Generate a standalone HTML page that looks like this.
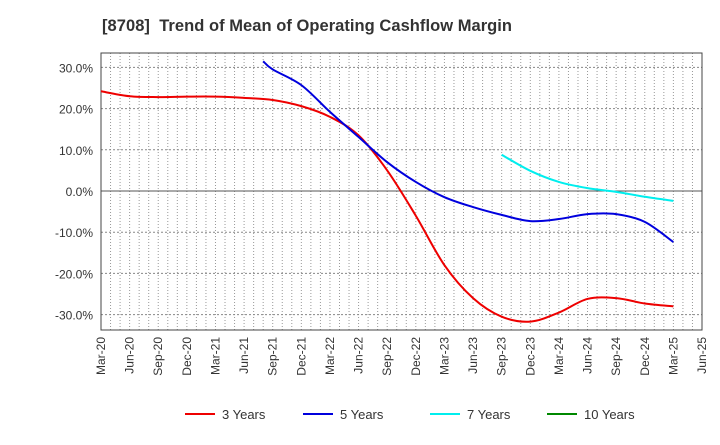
<!DOCTYPE html>
<html><head><meta charset="utf-8"><style>
body{margin:0;background:#fff;font-family:"Liberation Sans",Arial,sans-serif}
svg text{font-family:"Liberation Sans",Arial,sans-serif}
</style></head><body>
<svg id="c" width="720" height="440" xmlns="http://www.w3.org/2000/svg">
<text x="102" y="31" font-size="16.5" font-weight="bold" fill="#333" textLength="410">[8708]&#160; Trend of Mean of Operating Cashflow Margin</text>
<g id="grid"></g><g id="axes"></g><g id="series"></g><g id="legend"></g>
</svg>
<script>
const xLabels=["Mar-20","Jun-20","Sep-20","Dec-20","Mar-21","Jun-21","Sep-21","Dec-21","Mar-22","Jun-22","Sep-22","Dec-22","Mar-23","Jun-23","Sep-23","Dec-23","Mar-24","Jun-24","Sep-24","Dec-24","Mar-25","Jun-25"];
const yTicks=[30,20,10,0,-10,-20,-30];
const s3=[24.2,23.0,22.8,22.9,22.9,22.6,22.1,20.6,18.0,13.5,5,-6,-18,-26,-30.5,-31.7,-29.5,-26.2,-26,-27.3,-28];
const s5=[null,null,null,null,null,null,29.5,25.7,19.2,13.1,7,2.2,-1.5,-3.9,-5.8,-7.3,-6.8,-5.6,-5.6,-7.5,-12.4];
const s5FirstMonth=17, s5FirstValue=31.5;
const s7=[null,null,null,null,null,null,null,null,null,null,null,null,null,null,null,4.9,2.2,0.7,-0.2,-1.4,-2.4];
const s7FirstMonth=42, s7FirstValue=8.8;
const s10=[];
const NS="http://www.w3.org/2000/svg";
const L=101,R=702,T=53,B=330;
const x=i=>L+(R-L)*i/21;
const y=v=>191-v*4.12;
function mk(t,a,p){const e=document.createElementNS(NS,t);for(const k in a)e.setAttribute(k,a[k]);p.appendChild(e);return e;}
const g=document.getElementById('grid'),ax=document.getElementById('axes'),se=document.getElementById('series'),lg=document.getElementById('legend');
for(let m=1;m<63;m++){const l=mk('line',{x1:L+(R-L)*m/63,x2:L+(R-L)*m/63,y1:T,y2:B,stroke:'#999','stroke-dasharray':'1,2','stroke-width':1},g);

}
yTicks.forEach(v=>{const l=mk('line',{x1:L,x2:R,y1:y(v),y2:y(v),stroke:v===0?'#555':'#888','stroke-dasharray':v===0?'':'2,2','stroke-width':1},g);


const t=mk('text',{x:L-8,y:y(v)+5,'text-anchor':'end','font-size':12,fill:'#333'},ax);t.textContent=v.toFixed(1)+'%';

});
const fr=mk('rect',{x:L,y:T,width:R-L,height:B-T,fill:'none',stroke:'#444','stroke-width':1},ax);


xLabels.forEach((s,i)=>{const t=mk('text',{x:0,y:0,'text-anchor':'end','font-size':12,fill:'#333',transform:`translate(${x(i)+4},${B+7}) rotate(-90)`},ax);t.textContent=s;

});
function path(arr,fm,fv){const p=[];if(fm!=null)p.push([x(fm/3),y(fv)]);arr.forEach((v,i)=>{if(v!=null)p.push([x(i),y(v)]);});if(p.length<2)return '';
let d=`M${p[0][0]},${p[0][1]}`;for(let i=0;i<p.length-1;i++){const p0=p[i-1]||p[i],p1=p[i],p2=p[i+1],p3=p[i+2]||p2;
d+=` C${p1[0]+(p2[0]-p0[0])/6},${p1[1]+(p2[1]-p0[1])/6} ${p2[0]-(p3[0]-p1[0])/6},${p2[1]-(p3[1]-p1[1])/6} ${p2[0]},${p2[1]}`;}return d;}
const series=[[s3,'#ee0000','3 Years','series-3-years',null,null],[s5,'#0000dd','5 Years','series-5-years',s5FirstMonth,s5FirstValue],[s7,'#00eeee','7 Years','series-7-years',s7FirstMonth,s7FirstValue],[s10,'#008800','10 Years','series-10-years',null,null]];
const lx=[185,303,430,547];
series.forEach((s,k)=>{const d=path(s[0],s[4],s[5]);if(d){const p=mk('path',{d:d,fill:'none',stroke:s[1],'stroke-width':2},se);

}
const ln=mk('line',{x1:lx[k],x2:lx[k]+30,y1:414,y2:414,stroke:s[1],'stroke-width':2},lg);


const t=mk('text',{x:lx[k]+37,y:419,'font-size':13,fill:'#333'},lg);t.textContent=s[2];

});
</script>
</body></html>
